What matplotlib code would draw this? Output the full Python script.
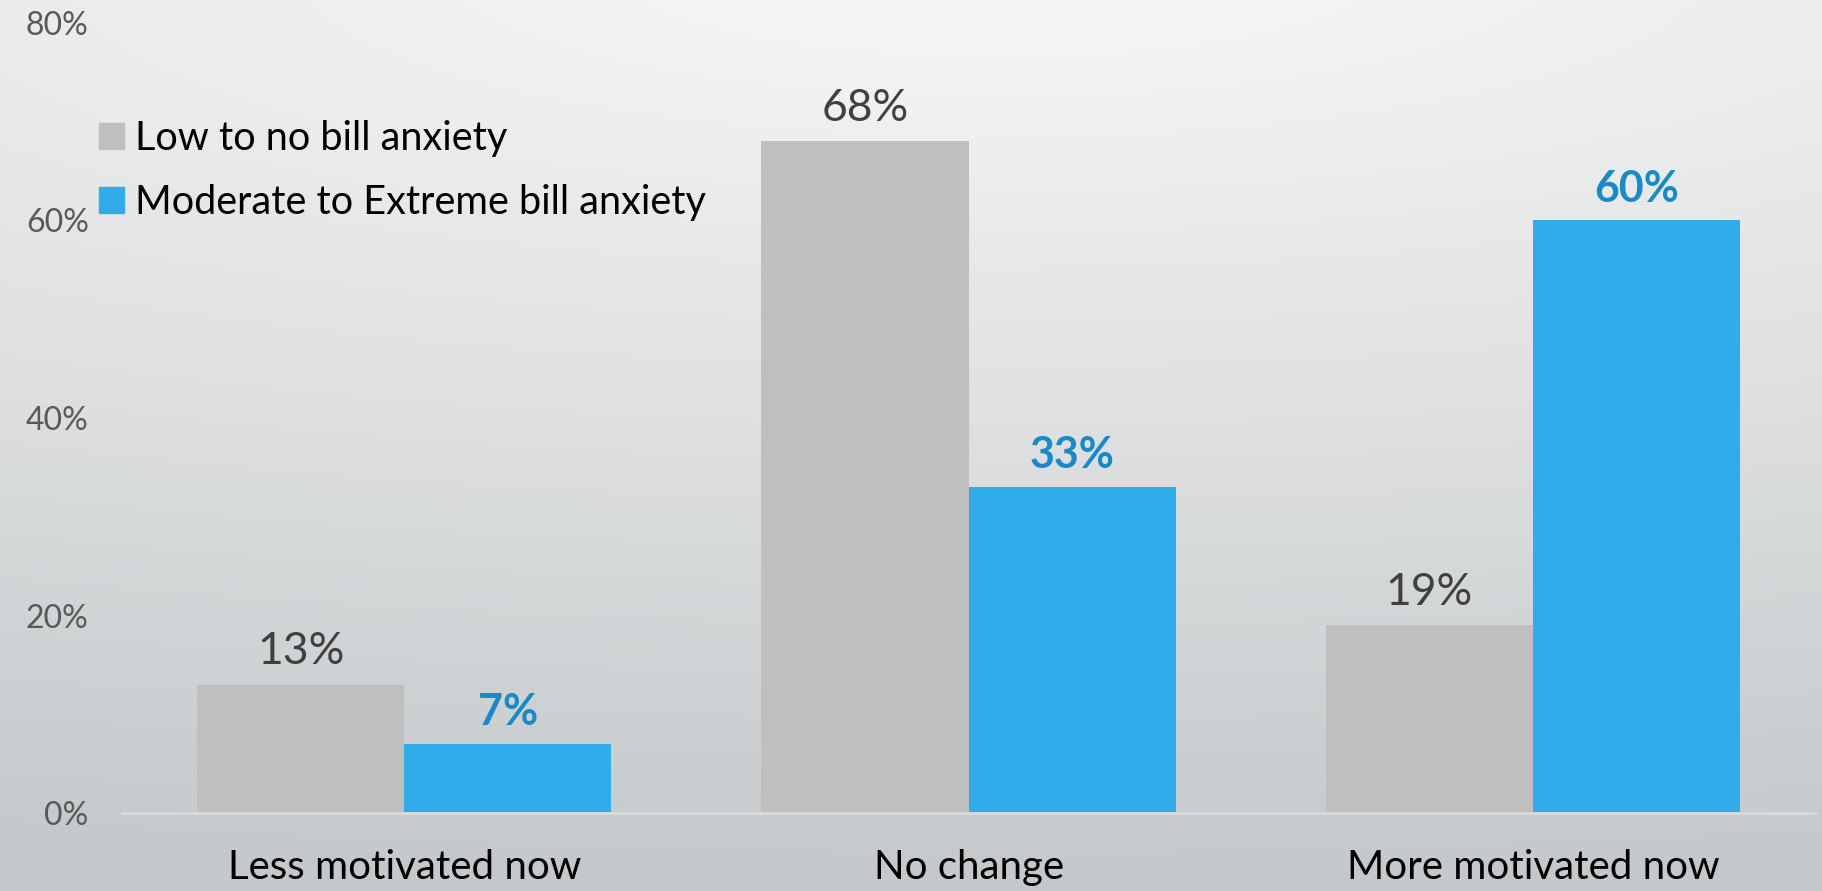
import numpy as np
import matplotlib
matplotlib.use("Agg")
import matplotlib.pyplot as plt
from matplotlib.colors import LinearSegmentedColormap
from matplotlib.patches import Patch

categories = ["Less motivated now", "No change", "More motivated now"]
series_names = ["Low to no bill anxiety", "Moderate to Extreme bill anxiety"]
low_anxiety = [13, 68, 19]
high_anxiety = [7, 33, 60]
y_ticks = [0, 20, 40, 60, 80]

GRAY = "#bfbfbf"
BLUE = "#31acea"
BLUE_TEXT = "#1a8ac6"

plt.rcParams["font.family"] = ["Lato", "DejaVu Sans"]

fig = plt.figure(figsize=(18.22, 8.91), dpi=100)

# soft background: light at the top centre, darker grey towards the bottom
bg = fig.add_axes([0, 0, 1, 1], zorder=-1)
W, H = 1822, 891
xx, yy = np.meshgrid(np.arange(W), np.arange(H))
t = np.sqrt(((xx - 1000) / 3800.0) ** 2 + ((yy + 40) / 930.0) ** 2)
t = np.clip(t, 0, 1)
cmap = LinearSegmentedColormap.from_list("bg", ["#f8f8f8", "#c4c8ca"])
bg.imshow(t, cmap=cmap, vmin=0, vmax=1, aspect="auto", interpolation="bilinear")
bg.axis("off")

ax = fig.add_axes([0.0670, 0.08754, 0.9292, 0.88665])
ax.patch.set_alpha(0)

x = np.arange(len(categories))
w = 0.367
b1 = ax.bar(x - w / 2, low_anxiety, w, color=GRAY, zorder=2)
b2 = ax.bar(x + w / 2, high_anxiety, w, color=BLUE, zorder=2)

for rect, v in zip(b1, low_anxiety):
    ax.annotate(f"{v}%", (rect.get_x() + rect.get_width() / 2, v),
                xytext=(0, 15), textcoords="offset points",
                ha="center", va="baseline", fontsize=32, color="#404040")
for rect, v in zip(b2, high_anxiety):
    ax.annotate(f"{v}%", (rect.get_x() + rect.get_width() / 2, v),
                xytext=(0, 13.5), textcoords="offset points",
                ha="center", va="baseline", fontsize=31, color=BLUE_TEXT,
                fontweight="bold")

ax.set_xlim(-0.5, 2.5)
ax.set_ylim(0, 80)
ax.set_yticks(y_ticks)
ax.set_yticklabels([f"{v}%" for v in y_ticks], fontsize=23, color="#595959")
ax.set_xticks(x)
ax.set_xticklabels(categories, fontsize=29, color="black")
ax.tick_params(axis="y", length=0, pad=24)
ax.tick_params(axis="x", length=0, pad=26)

for s in ["top", "right", "left"]:
    ax.spines[s].set_visible(False)
ax.spines["bottom"].set_color("#d9d9d9")
ax.spines["bottom"].set_linewidth(2.2)

handles = [Patch(color=GRAY), Patch(color=BLUE)]
fig.legend(handles, series_names, loc="upper left",
           bbox_to_anchor=(99 / 1822, 1 - 120 / 891),
           bbox_transform=fig.transFigure, frameon=False, fontsize=28.5,
           handlelength=0.62, handleheight=0.62, handletextpad=0.3,
           labelspacing=0.68, borderpad=0, borderaxespad=0)

fig.savefig("out.png", dpi=100)
